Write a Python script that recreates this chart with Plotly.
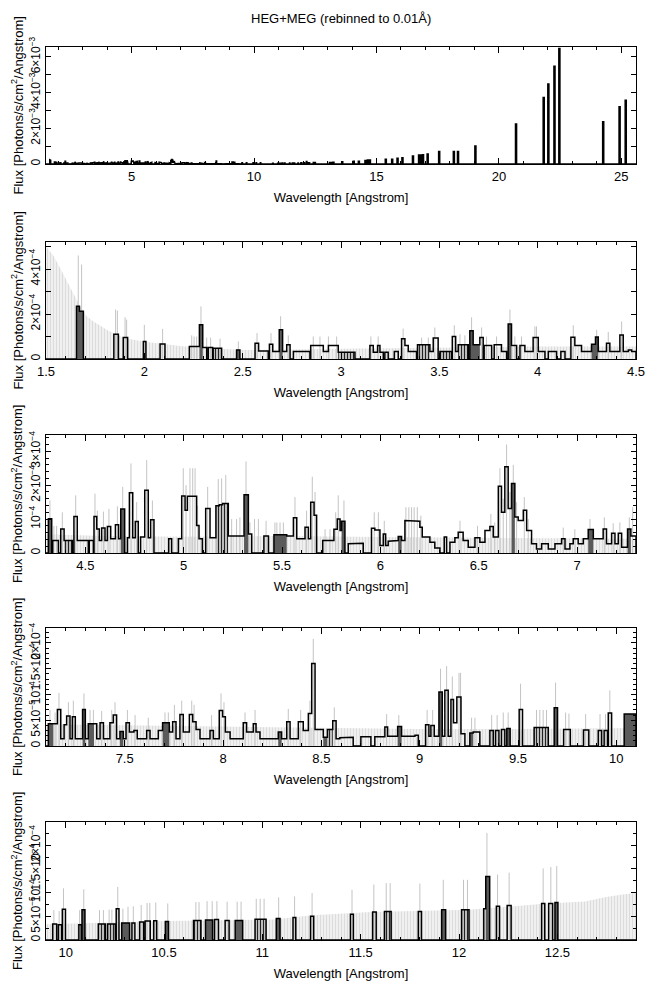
import plotly.graph_objects as go

TITLE = "HEG+MEG (rebinned to 0.01Å)"
XTITLE = "Wavelength [Angstrom]"
YTITLE = "Flux [Photons/s/cm<sup>2</sup>/Angstrom]"

# ---------------- data (flux in units of 1e-4 ph/s/cm2/A) ----------------
# histogram bins: (lo, hi, flux, kind)  kind: 0 outline, 1 dense/dark, 2 hatched
p2_bins = [
    (1.655, 1.670, 2.34, 1), (1.670, 1.690, 2.12, 1), (1.845, 1.868, 1.10, 0),
    (1.893, 1.915, 0.95, 0), (1.995, 2.008, 0.78, 0), (2.080, 2.105, 0.67, 0),
    (2.229, 2.280, 0.55, 0), (2.280, 2.297, 1.52, 1), (2.297, 2.317, 0.51, 0),
    (2.325, 2.347, 0.51, 0), (2.350, 2.393, 0.48, 2), (2.469, 2.486, 0.40, 1),
    (2.563, 2.581, 0.70, 0), (2.581, 2.630, 0.36, 0), (2.636, 2.653, 0.66, 0),
    (2.653, 2.686, 0.33, 0), (2.686, 2.703, 1.30, 1), (2.703, 2.724, 0.33, 0),
    (2.724, 2.741, 0.63, 0), (2.758, 2.842, 0.33, 0), (2.846, 2.910, 0.60, 0),
    (2.910, 2.936, 0.33, 0), (2.936, 2.986, 0.60, 0), (2.986, 3.071, 0.30, 2),
    (3.147, 3.164, 0.60, 0), (3.164, 3.186, 0.30, 0), (3.186, 3.198, 0.60, 0),
    (3.198, 3.215, 0.30, 0), (3.223, 3.240, 0.30, 0), (3.271, 3.291, 0.33, 0),
    (3.308, 3.325, 0.90, 0), (3.325, 3.342, 0.60, 0), (3.342, 3.384, 0.33, 0),
    (3.389, 3.452, 0.63, 2), (3.452, 3.469, 0.33, 0), (3.469, 3.494, 0.93, 0),
    (3.503, 3.562, 0.33, 2), (3.566, 3.583, 1.00, 0), (3.583, 3.596, 0.33, 0),
    (3.596, 3.647, 0.63, 2), (3.655, 3.672, 1.25, 1), (3.672, 3.706, 0.63, 1),
    (3.706, 3.723, 0.95, 0), (3.728, 3.766, 0.60, 0), (3.779, 3.816, 0.63, 0),
    (3.816, 3.842, 0.33, 0), (3.850, 3.867, 1.55, 1), (3.867, 3.893, 0.60, 0),
    (3.910, 3.935, 0.60, 0), (3.935, 3.977, 0.33, 0), (3.977, 4.003, 0.95, 0),
    (4.003, 4.037, 0.33, 0), (4.054, 4.096, 0.33, 0), (4.118, 4.139, 0.33, 0),
    (4.169, 4.189, 0.97, 0), (4.189, 4.223, 0.60, 0), (4.223, 4.274, 0.33, 0),
    (4.274, 4.294, 0.66, 1), (4.294, 4.308, 0.98, 1), (4.308, 4.350, 0.33, 0),
    (4.350, 4.367, 0.70, 0), (4.367, 4.418, 0.33, 0), (4.418, 4.435, 1.07, 0),
    (4.435, 4.461, 0.33, 0), (4.461, 4.478, 0.40, 0), (4.478, 4.500, 0.33, 0),
]
p2_curt_wl = [1.50, 1.537, 1.571, 1.605, 1.639, 1.673, 1.707, 1.741, 1.775, 1.808,
              1.842, 1.893, 1.944, 2.012, 2.08, 2.18, 2.317, 2.419, 2.52, 3.0, 3.5, 4.0, 4.5]
p2_curt = [5.0, 4.6, 4.06, 3.5, 2.94, 2.34, 1.9, 1.67, 1.49, 1.3,
           1.15, 0.95, 0.85, 0.75, 0.69, 0.58, 0.48, 0.43, 0.40, 0.45, 0.5, 0.55, 0.55]
p2_err_wl = [1.664, 1.681, 1.854, 1.863, 1.902, 1.910, 2.000, 2.093, 2.241, 2.253,
             2.266, 2.288, 2.317, 2.337, 2.385, 2.478, 2.573, 2.644, 2.693, 2.732,
             2.859, 2.893, 2.936, 2.978, 3.152, 3.189, 3.316, 3.410, 3.444, 3.477,
             3.576, 3.605, 3.630, 3.664, 3.715, 3.740, 3.791, 3.859, 3.884, 3.918,
             3.986, 3.994, 4.181, 4.300, 4.359, 4.427]
p2_err_top = [4.6, 4.2, 2.2, 2.15, 1.85, 1.75, 1.52, 1.34, 1.05, 1.0,
              1.0, 2.34, 0.95, 0.95, 0.9, 0.78, 1.15, 1.15, 1.9, 1.05,
              1.0, 1.0, 1.0, 1.0, 1.0, 1.0, 1.35, 0.95, 0.95, 1.4,
              1.5, 1.1, 1.05, 1.85, 1.4, 1.0, 1.0, 2.2, 1.0, 1.0,
              1.45, 1.45, 1.5, 1.3, 1.2, 1.67]

p3_bins = [
    (4.312, 4.329, 1.01, 1), (4.334, 4.363, 0.37, 0), (4.375, 4.392, 0.71, 0),
    (4.392, 4.434, 0.37, 2), (4.442, 4.459, 1.08, 0), (4.459, 4.515, 0.37, 0),
    (4.520, 4.541, 0.37, 0), (4.544, 4.558, 1.08, 0), (4.558, 4.571, 0.71, 0),
    (4.571, 4.583, 0.37, 0), (4.583, 4.600, 0.74, 0), (4.600, 4.612, 0.37, 0),
    (4.612, 4.629, 0.78, 0), (4.629, 4.653, 0.42, 0), (4.653, 4.669, 0.83, 0),
    (4.669, 4.680, 0.42, 0), (4.680, 4.700, 1.30, 1), (4.714, 4.724, 0.45, 0),
    (4.724, 4.741, 1.78, 0), (4.741, 4.754, 0.45, 0), (4.754, 4.769, 0.93, 0),
    (4.781, 4.802, 0.47, 0), (4.802, 4.820, 1.85, 0), (4.820, 4.832, 0.45, 0),
    (4.832, 4.849, 0.98, 0), (4.924, 4.939, 0.42, 0), (4.973, 4.990, 0.42, 0),
    (4.990, 5.007, 1.68, 0), (5.007, 5.019, 1.26, 0), (5.019, 5.066, 1.67, 0),
    (5.066, 5.078, 0.81, 0), (5.078, 5.095, 0.42, 0), (5.112, 5.134, 1.31, 0),
    (5.134, 5.164, 0.45, 0), (5.164, 5.181, 1.39, 2), (5.181, 5.198, 1.42, 2),
    (5.198, 5.227, 1.46, 2), (5.227, 5.307, 0.50, 0), (5.307, 5.329, 1.72, 1),
    (5.329, 5.346, 0.56, 0), (5.408, 5.431, 0.50, 0), (5.459, 5.524, 0.54, 1),
    (5.524, 5.558, 0.50, 0), (5.558, 5.575, 1.04, 0), (5.575, 5.617, 0.42, 0),
    (5.617, 5.634, 0.76, 0), (5.634, 5.646, 0.42, 0), (5.646, 5.663, 1.50, 0),
    (5.663, 5.676, 1.11, 0), (5.707, 5.764, 0.37, 0), (5.764, 5.781, 0.70, 0),
    (5.781, 5.795, 1.00, 0), (5.795, 5.803, 0.66, 0), (5.803, 5.820, 0.94, 1),
    (5.837, 5.862, 0.27, 0), (5.862, 5.913, 0.29, 0), (5.955, 5.972, 0.73, 0),
    (5.972, 5.998, 0.68, 0), (5.998, 6.015, 0.22, 0), (6.015, 6.027, 0.56, 0),
    (6.027, 6.040, 0.22, 0), (6.040, 6.066, 0.35, 0), (6.066, 6.091, 0.37, 0),
    (6.091, 6.108, 0.49, 1), (6.108, 6.125, 0.37, 0), (6.125, 6.184, 0.96, 0),
    (6.184, 6.201, 0.94, 0), (6.201, 6.213, 0.76, 0), (6.213, 6.252, 0.47, 0),
    (6.252, 6.277, 0.32, 0), (6.277, 6.303, 0.15, 0), (6.325, 6.337, 0.47, 0),
    (6.354, 6.379, 0.32, 0), (6.379, 6.396, 0.45, 0), (6.396, 6.421, 0.61, 0),
    (6.421, 6.447, 0.37, 0), (6.447, 6.481, 0.17, 0), (6.481, 6.506, 0.45, 0),
    (6.506, 6.532, 0.32, 0), (6.532, 6.557, 0.66, 0), (6.557, 6.574, 0.78, 0),
    (6.574, 6.600, 0.47, 0), (6.600, 6.616, 1.97, 0), (6.616, 6.633, 1.20, 0),
    (6.633, 6.650, 2.54, 0), (6.650, 6.667, 1.31, 0), (6.667, 6.684, 2.05, 1),
    (6.684, 6.701, 1.06, 0), (6.701, 6.727, 0.96, 0), (6.727, 6.744, 1.26, 0),
    (6.744, 6.769, 0.66, 0), (6.769, 6.794, 0.27, 0), (6.794, 6.820, 0.12, 0),
    (6.820, 6.854, 0.27, 0), (6.854, 6.888, 0.12, 0), (6.888, 6.922, 0.27, 0),
    (6.922, 6.939, 0.42, 0), (6.939, 6.964, 0.12, 0), (6.964, 6.981, 0.27, 0),
    (6.981, 7.006, 0.42, 0), (7.006, 7.032, 0.27, 0), (7.032, 7.057, 0.42, 0),
    (7.057, 7.083, 0.69, 1), (7.083, 7.133, 0.42, 0), (7.133, 7.150, 0.71, 0),
    (7.150, 7.176, 0.27, 0), (7.176, 7.193, 0.58, 0), (7.193, 7.210, 0.27, 0),
    (7.210, 7.227, 0.58, 0), (7.227, 7.257, 0.17, 0), (7.257, 7.274, 0.71, 1),
    (7.274, 7.300, 0.50, 0),
]
p3_curt_wl = [4.3, 4.6, 5.0, 5.5, 6.0, 6.5, 7.0, 7.3]
p3_curt = [0.55, 0.50, 0.48, 0.50, 0.47, 0.45, 0.42, 0.42]
p3_err_wl = [4.320, 4.340, 4.354, 4.383, 4.451, 4.549, 4.561, 4.592, 4.620, 4.663,
             4.690, 4.732, 4.761, 4.812, 4.841, 4.998, 5.012, 5.032, 5.046, 5.058,
             5.071, 5.122, 5.176, 5.193, 5.214, 5.244, 5.269, 5.286, 5.317, 5.337,
             5.360, 5.380, 5.419, 5.464, 5.474, 5.490, 5.507, 5.566, 5.625, 5.654,
             5.668, 5.719, 5.744, 5.773, 5.786, 5.815, 5.969, 5.990, 6.020, 6.130,
             6.145, 6.159, 6.172, 6.188, 6.206, 6.405, 6.494, 6.562, 6.582, 6.608,
             6.625, 6.642, 6.659, 6.676, 6.693, 6.732, 6.752, 6.930, 6.989, 7.066,
             7.139, 7.184, 7.218, 7.266, 7.283]
p3_err_top = [1.55, 0.8, 0.8, 1.2, 1.7, 1.75, 1.25, 1.22, 1.3, 1.38,
              1.95, 2.64, 1.5, 2.74, 1.55, 2.5, 2.0, 2.5, 2.5, 2.5,
              1.4, 1.95, 2.18, 2.2, 2.3, 1.0, 1.0, 1.05, 2.7, 0.9,
              1.0, 1.0, 0.95, 0.9, 0.9, 0.9, 0.9, 1.65, 1.25, 2.25,
              1.8, 0.7, 0.7, 1.2, 1.7, 1.55, 1.2, 1.2, 0.95, 1.35,
              1.35, 1.35, 1.35, 1.35, 1.1, 0.95, 0.8, 1.15, 0.9, 2.5,
              1.6, 3.2, 1.8, 2.6, 1.5, 1.65, 1.0, 0.75, 0.7, 1.0,
              1.05, 0.88, 0.9, 1.05, 1.35]

p4_bins = [
    (7.112, 7.137, 0.43, 1), (7.137, 7.158, 0.43, 0), (7.158, 7.175, 0.71, 0),
    (7.175, 7.192, 0.14, 0), (7.192, 7.205, 0.41, 0), (7.205, 7.222, 0.58, 0),
    (7.222, 7.234, 0.14, 0), (7.234, 7.249, 0.57, 0), (7.249, 7.286, 0.14, 0),
    (7.286, 7.300, 0.71, 1), (7.300, 7.315, 0.14, 0), (7.315, 7.344, 0.43, 1),
    (7.344, 7.358, 0.43, 0), (7.358, 7.375, 0.14, 0), (7.375, 7.392, 0.45, 0),
    (7.392, 7.425, 0.14, 0), (7.425, 7.442, 0.45, 0), (7.442, 7.459, 0.60, 0),
    (7.459, 7.476, 0.14, 0), (7.476, 7.493, 0.28, 1), (7.493, 7.507, 0.14, 0),
    (7.507, 7.524, 0.45, 0), (7.524, 7.547, 0.27, 0), (7.547, 7.564, 0.30, 0),
    (7.564, 7.612, 0.14, 0), (7.612, 7.629, 0.30, 0), (7.629, 7.671, 0.14, 0),
    (7.671, 7.693, 0.30, 0), (7.693, 7.727, 0.45, 1), (7.727, 7.744, 0.27, 0),
    (7.744, 7.761, 0.47, 0), (7.761, 7.781, 0.14, 0), (7.781, 7.798, 0.61, 0),
    (7.798, 7.829, 0.27, 0), (7.829, 7.846, 0.61, 0), (7.846, 7.863, 0.47, 0),
    (7.863, 7.883, 0.32, 0), (7.883, 7.934, 0.14, 0), (7.934, 7.951, 0.30, 0),
    (7.951, 7.981, 0.14, 0), (7.981, 7.998, 0.69, 0), (7.998, 8.012, 0.57, 0),
    (8.012, 8.036, 0.27, 0), (8.036, 8.103, 0.14, 0), (8.103, 8.120, 0.45, 0),
    (8.120, 8.154, 0.27, 0), (8.154, 8.168, 0.43, 0), (8.168, 8.188, 0.27, 0),
    (8.188, 8.281, 0.14, 0), (8.281, 8.298, 0.27, 1), (8.298, 8.324, 0.14, 0),
    (8.324, 8.341, 0.47, 0), (8.341, 8.383, 0.14, 0), (8.383, 8.408, 0.47, 0),
    (8.408, 8.434, 0.30, 0), (8.434, 8.451, 0.63, 0), (8.451, 8.468, 1.60, 0),
    (8.468, 8.510, 0.32, 0), (8.510, 8.531, 0.17, 1), (8.531, 8.558, 0.32, 2),
    (8.558, 8.575, 0.49, 0), (8.575, 8.594, 0.14, 0), (8.594, 8.620, 0.16, 0),
    (8.620, 8.662, 0.17, 0), (8.701, 8.752, 0.18, 0), (8.772, 8.823, 0.18, 0),
    (8.823, 8.837, 0.37, 0), (8.837, 8.888, 0.19, 0), (8.888, 8.908, 0.38, 1),
    (8.908, 8.976, 0.19, 0), (8.976, 8.993, 0.21, 0), (9.030, 9.047, 0.41, 0),
    (9.047, 9.057, 0.19, 0), (9.057, 9.074, 0.40, 0), (9.074, 9.098, 0.19, 0),
    (9.098, 9.115, 1.05, 1), (9.115, 9.128, 0.19, 0), (9.128, 9.145, 1.08, 0),
    (9.145, 9.159, 0.19, 0), (9.159, 9.172, 0.90, 0), (9.172, 9.189, 0.45, 0),
    (9.189, 9.210, 0.95, 0), (9.210, 9.230, 0.24, 0), (9.255, 9.272, 0.25, 1),
    (9.272, 9.306, 0.27, 0), (9.357, 9.374, 0.30, 0), (9.386, 9.403, 0.30, 0),
    (9.416, 9.433, 0.32, 0), (9.443, 9.460, 0.34, 1), (9.506, 9.523, 0.71, 0),
    (9.582, 9.654, 0.36, 2), (9.684, 9.701, 0.74, 1), (9.732, 9.766, 0.32, 0),
    (9.833, 9.860, 0.31, 0), (9.908, 9.925, 0.30, 0), (9.938, 9.955, 0.30, 0),
    (9.959, 9.976, 0.64, 0), (10.040, 10.100, 0.62, 1),
]
p4_curt_wl = [7.1, 7.5, 8.0, 8.5, 9.0, 9.5, 10.1]
p4_curt = [0.42, 0.40, 0.37, 0.35, 0.33, 0.33, 0.35]
p4_err_wl = [7.120, 7.146, 7.166, 7.214, 7.239, 7.293, 7.324, 7.341, 7.383, 7.434,
             7.451, 7.514, 7.553, 7.620, 7.705, 7.722, 7.753, 7.790, 7.841, 7.853,
             7.942, 7.990, 8.005, 8.112, 8.163, 8.332, 8.395, 8.442, 8.459, 8.566,
             8.832, 8.894, 9.038, 9.066, 9.106, 9.137, 9.166, 9.200, 9.208, 9.264,
             9.281, 9.366, 9.394, 9.425, 9.450, 9.513, 9.594, 9.611, 9.628, 9.645,
             9.691, 9.742, 9.759, 9.844, 9.917, 9.945, 9.967, 10.052]
p4_err_top = [0.70, 0.65, 1.03, 0.85, 0.88, 1.02, 0.70, 0.70, 0.68, 0.70,
              0.85, 0.70, 0.60, 0.55, 0.65, 0.65, 0.80, 0.88, 0.88, 0.80,
              0.60, 1.02, 0.85, 0.65, 0.70, 0.72, 0.70, 0.88, 2.08, 0.75,
              0.62, 0.60, 0.70, 0.70, 1.50, 1.55, 1.35, 1.42, 1.42, 0.55,
              0.55, 0.60, 0.60, 0.65, 0.65, 1.21, 0.70, 0.70, 0.70, 0.70,
              1.23, 0.65, 0.63, 0.62, 0.62, 0.62, 1.08, 0.60]

p5_bins = [
    (9.934, 9.954, 0.34, 0), (9.963, 9.979, 0.32, 0), (9.983, 9.999, 0.65, 0),
    (10.067, 10.079, 0.32, 0), (10.083, 10.098, 0.64, 1), (10.166, 10.202, 0.34, 2),
    (10.213, 10.253, 0.34, 2), (10.257, 10.271, 0.66, 0), (10.285, 10.325, 0.36, 1),
    (10.337, 10.352, 0.36, 0), (10.376, 10.396, 0.38, 0), (10.404, 10.430, 0.40, 0),
    (10.448, 10.463, 0.405, 0), (10.507, 10.523, 0.39, 1), (10.650, 10.688, 0.41, 2),
    (10.711, 10.747, 0.42, 1), (10.757, 10.777, 0.43, 0), (10.811, 10.831, 0.41, 0),
    (10.862, 10.900, 0.41, 1), (10.963, 11.019, 0.44, 2), (11.071, 11.090, 0.455, 1),
    (11.156, 11.170, 0.475, 0), (11.245, 11.261, 0.50, 0), (11.448, 11.463, 0.545, 0),
    (11.561, 11.579, 0.59, 0), (11.621, 11.655, 0.60, 2), (11.793, 11.809, 0.60, 0),
    (11.912, 11.932, 0.64, 1), (12.013, 12.051, 0.64, 2), (12.126, 12.136, 0.66, 0),
    (12.136, 12.156, 1.34, 1), (12.190, 12.206, 0.71, 0), (12.245, 12.265, 0.73, 0),
    (12.420, 12.436, 0.77, 0), (12.456, 12.476, 0.77, 0), (12.488, 12.503, 0.79, 1),
]
p5_curt_wl = [9.9, 9.999, 10.519, 11.055, 11.253, 11.551, 11.848, 12.047, 12.245,
              12.444, 12.642, 12.741, 12.84, 12.9]
p5_curt = [0.33, 0.34, 0.40, 0.43, 0.52, 0.59, 0.62, 0.64, 0.70,
           0.77, 0.81, 0.90, 0.965, 0.99]
p5_err_wl = [9.940, 9.967, 9.989, 10.071, 10.092, 10.172, 10.192, 10.221, 10.235, 10.265,
             10.291, 10.317, 10.344, 10.384, 10.414, 10.428, 10.458, 10.519, 10.662, 10.678,
             10.719, 10.745, 10.769, 10.821, 10.872, 10.892, 10.969, 10.989, 11.009, 11.083,
             11.164, 11.253, 11.456, 11.567, 11.630, 11.650, 11.801, 11.920, 12.023, 12.043,
             12.142, 12.196, 12.255, 12.428, 12.467, 12.497]
p5_err_top = [0.63, 0.61, 1.09, 0.63, 1.07, 0.63, 0.63, 0.64, 0.64, 1.12,
              0.66, 0.70, 0.71, 0.74, 0.78, 0.78, 0.79, 0.77, 0.80, 0.80,
              0.82, 0.82, 0.82, 0.81, 0.81, 0.81, 0.87, 0.87, 0.87, 0.90,
              0.92, 0.99, 1.06, 1.17, 1.20, 1.20, 1.19, 1.27, 1.27, 1.27,
              2.26, 1.38, 1.42, 1.51, 1.54, 1.56]

# long-wavelength lines in overview (wavelength, flux in 1e-3)
p1_line_wl = [13.10, 13.17, 13.24, 13.60, 14.07, 14.28, 14.55, 14.65, 14.73, 15.38,
              15.64, 15.86, 16.06, 16.49, 16.74, 16.83, 16.90, 17.09, 17.56, 18.16,
              18.33, 19.04, 20.70, 21.83, 22.02, 22.27, 22.47, 24.26, 24.93, 25.18]
p1_line_flux = [0.08, 0.08, 0.10, 0.12, 0.15, 0.15, 0.20, 0.22, 0.22, 0.26,
                0.26, 0.32, 0.35, 0.45, 0.50, 0.50, 0.52, 0.56, 0.69, 0.69,
                0.69, 1.00, 2.23, 3.72, 4.47, 5.47, 6.46, 2.36, 3.20, 3.57]

# ---------------- helpers ----------------
E4 = 1e-4


def step_xy(bins, x0, x1, scale):
    xs, ys = [x0], [0.0]
    prev = x0
    for lo, hi, v, _ in sorted(bins):
        lo = max(lo, prev)
        if hi <= lo:
            continue
        if lo > prev:
            xs += [prev, lo]
            ys += [0.0, 0.0]
        xs += [lo, hi]
        ys += [v * scale, v * scale]
        prev = hi
    xs += [prev, x1]
    ys += [0.0, 0.0]
    return xs, ys


def rect_xy(bins, kind, scale):
    xs, ys = [], []
    for lo, hi, v, k in bins:
        if k == kind:
            xs += [lo, lo, hi, hi, lo, None]
            ys += [0, v * scale, v * scale, 0, 0, None]
    return xs, ys


def err_xy(wl, top, scale):
    xs, ys = [], []
    for w, t in zip(wl, top):
        xs += [w, w, None]
        ys += [0, t * scale, None]
    return xs, ys


# overview bins: combine detailed panels + long-wavelength lines
p1_bins = ([b for b in p2_bins if b[0] < 4.4] + [b for b in p3_bins if 4.4 <= b[0] < 7.2]
           + [b for b in p4_bins if 7.2 <= b[0] < 10.0] + [b for b in p5_bins if b[0] >= 10.0])
p1_bins = [(lo, hi, v * E4, k) for lo, hi, v, k in p1_bins]
p1_bins += [(w - 0.02, w + 0.02, f * 1e-3, 0) for w, f in zip(p1_line_wl, p1_line_flux)]

W, H = 650, 991
XL, XR = 46 / W, 636 / W
panel_px = [(47, 164), (242, 359), (435, 553), (628, 746), (822, 940)]

sup = lambda e: f"10<sup>\u2212{e}</sup>"
panels = [
    dict(xr=[1.5, 25.6], dt=5, mdt=1, yr=[0, 6.55e-3],
         tv=[0, 2e-3, 4e-3, 6e-3],
         tt=["0", "2\u00d7" + sup(3), "4\u00d7" + sup(3), "6\u00d7" + sup(3)],
         ymdt=1e-3, ymlen=5),
    dict(xr=[1.5, 4.5], dt=0.5, mdt=0.1, yr=[0, 5.2e-4],
         tv=[0, 2e-4, 4e-4],
         tt=["0", "2\u00d7" + sup(4), "4\u00d7" + sup(4)], ymdt=1e-4, ymlen=5),
    dict(xr=[4.3, 7.3], dt=0.5, mdt=0.1, yr=[0, 3.48e-4],
         tv=[0, 1e-4, 2e-4, 3e-4],
         tt=["0", sup(4), "2\u00d7" + sup(4), "3\u00d7" + sup(4)], ymdt=0.2e-4, ymlen=3),
    dict(xr=[7.1, 10.1], dt=0.5, mdt=0.1, yr=[0, 2.29e-4],
         tv=[0, 0.5e-4, 1e-4, 1.5e-4, 2e-4],
         tt=["0", "5\u00d7" + sup(5), sup(4), "1.5\u00d7" + sup(4), "2\u00d7" + sup(4)],
         ymdt=0.1e-4, ymlen=3),
    dict(xr=[9.9, 12.9], dt=0.5, mdt=0.1, yr=[0, 2.49e-4],
         tv=[0, 0.5e-4, 1e-4, 1.5e-4, 2e-4],
         tt=["0", "5\u00d7" + sup(5), sup(4), "1.5\u00d7" + sup(4), "2\u00d7" + sup(4)],
         ymdt=0.25e-4, ymlen=3),
]
detail = [
    None,
    (p2_bins, p2_curt_wl, p2_curt, p2_err_wl, p2_err_top),
    (p3_bins, p3_curt_wl, p3_curt, p3_err_wl, p3_err_top),
    (p4_bins, p4_curt_wl, p4_curt, p4_err_wl, p4_err_top),
    (p5_bins, p5_curt_wl, p5_curt, p5_err_wl, p5_err_top),
]

FONT = "Liberation Sans, Arial, Helvetica, sans-serif"
fig = go.Figure()
layout = dict(template="none", width=W, height=H, margin=dict(l=0, r=0, t=0, b=0, pad=0),
              paper_bgcolor="white", plot_bgcolor="white", showlegend=False,
              font=dict(family=FONT, size=13, color="black"))
annotations = [dict(text=TITLE, x=(XL + XR) / 2, y=1 - 18 / H, xref="paper", yref="paper",
                    showarrow=False, font=dict(size=13), xanchor="center", yanchor="middle")]

for i, (p, (top, bot)) in enumerate(zip(panels, panel_px)):
    n = i + 1
    xa = "x" if n == 1 else f"x{n}"
    ya = "y" if n == 1 else f"y{n}"
    x0, x1 = p["xr"]
    if detail[i] is None:
        sx, sy = step_xy(p1_bins, x0, x1, 1.0)
        fig.add_trace(go.Scatter(x=sx, y=sy, mode="lines", xaxis=xa, yaxis=ya,
                                 line=dict(color="black", width=1.6), hoverinfo="skip"))
    else:
        bins, cwl, ctop, ewl, etop = detail[i]
        fig.add_trace(go.Scatter(x=cwl, y=[c * E4 for c in ctop], mode="lines", fill="tozeroy",
                                 fillcolor="#ececec",
                                 fillpattern=dict(shape="|", fgcolor="#dcdcdc", bgcolor="#f7f7f7",
                                                  size=3, solidity=0.5),
                                 line=dict(width=0, color="#e4e4e4"),
                                 xaxis=xa, yaxis=ya, hoverinfo="skip"))
        ex, ey = err_xy(ewl, etop, E4)
        fig.add_trace(go.Scatter(x=ex, y=ey, mode="lines", line=dict(color="#c4c4c4", width=1),
                                 xaxis=xa, yaxis=ya, hoverinfo="skip"))
        rx, ry = rect_xy(bins, 1, E4)
        fig.add_trace(go.Scatter(x=rx, y=ry, mode="lines", fill="toself", fillcolor="#5a5a5a",
                                 line=dict(width=0, color="#5a5a5a"), xaxis=xa, yaxis=ya,
                                 hoverinfo="skip"))
        hx, hy = rect_xy(bins, 2, E4)
        fig.add_trace(go.Scatter(x=hx, y=hy, mode="lines", fill="toself", fillcolor="#777777",
                                 fillpattern=dict(shape="|", fgcolor="#222222", bgcolor="#dddddd",
                                                  size=3, solidity=0.45),
                                 line=dict(width=0, color="#777777"), xaxis=xa, yaxis=ya,
                                 hoverinfo="skip"))
        sx, sy = step_xy(bins, x0, x1, E4)
        fig.add_trace(go.Scatter(x=sx, y=sy, mode="lines", xaxis=xa, yaxis=ya,
                                 line=dict(color="black", width=1.5), hoverinfo="skip"))

    yd = [1 - bot / H, 1 - top / H]
    common = dict(showline=True, linecolor="black", linewidth=1, mirror="allticks",
                  ticks="inside", tickcolor="black", showgrid=False, zeroline=False,
                  automargin=False, ticklabeloverflow="allow",
                  tickfont=dict(family=FONT, size=13, color="black"))
    xaxis = dict(common, domain=[XL, XR], anchor=ya, range=p["xr"], tick0=0, dtick=p["dt"],
                 ticklen=6, minor=dict(ticks="inside", dtick=p["mdt"], tick0=0, ticklen=3,
                                       tickcolor="black", showgrid=False),
                 title=dict(text=XTITLE, standoff=10, font=dict(family=FONT, size=13)))
    yaxis = dict(common, domain=yd, anchor=xa, range=p["yr"], tickmode="array",
                 tickvals=p["tv"], ticktext=p["tt"], tickangle=-90, ticklen=5,
                 tickfont=dict(family=FONT, size=12, color="black"),
                 minor=dict(ticks="inside", dtick=p["ymdt"], tick0=0, ticklen=p["ymlen"],
                            tickcolor="black", showgrid=False))
    layout["xaxis" if n == 1 else f"xaxis{n}"] = xaxis
    layout["yaxis" if n == 1 else f"yaxis{n}"] = yaxis
    annotations.append(dict(text=YTITLE, x=17 / W, y=(yd[0] + yd[1]) / 2, xref="paper",
                            yref="paper", textangle=-90, showarrow=False,
                            font=dict(family=FONT, size=13), xanchor="center", yanchor="middle"))

layout["annotations"] = annotations
fig.update_layout(**layout)
fig.write_html("out.html", config={"displayModeBar": False},
               post_script="document.body.style.margin='0px';document.body.style.padding='0px';")
